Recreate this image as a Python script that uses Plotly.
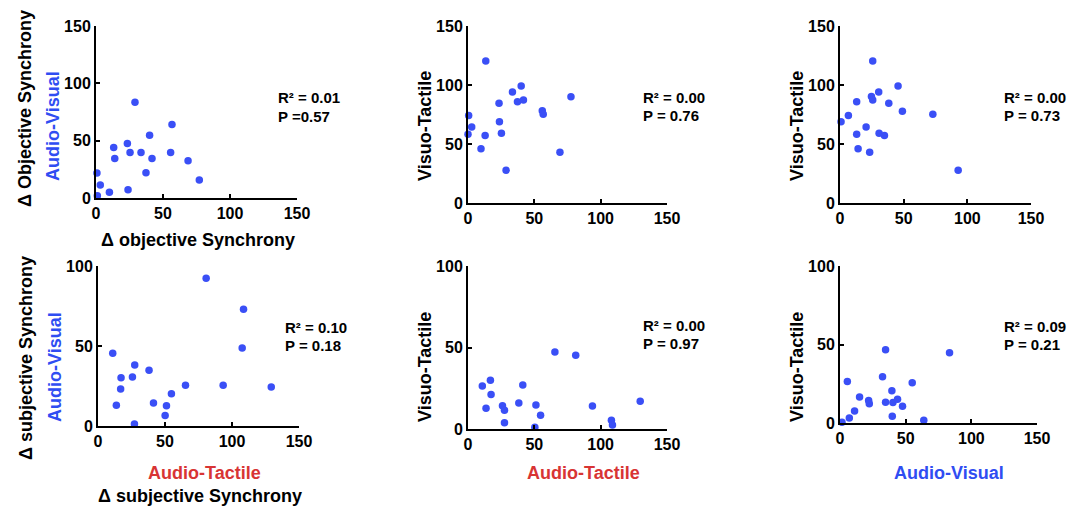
import plotly.graph_objects as go

W, H = 1083, 509

# ---- data ----
obj_av = [0.7, 3.2, 1.0, 10.0, 13.2, 14.0, 23.9, 23.4, 25.4, 29.1, 33.6, 37.3, 40.0, 41.8, 55.7, 56.7, 68.7, 77.1]
obj_at_p1 = [21.8, 11.3, 2.0, 5.0, 44.0, 34.5, 7.3, 47.6, 39.7, 83.5, 39.7, 22.0, 54.8, 34.5, 39.7, 64.1, 32.5, 15.7]

p2_x = [13.4, 0.5, 0.0, 2.8, 9.8, 12.9, 23.4, 23.7, 25.2, 28.7, 33.5, 37.3, 40.1, 41.8, 56.0, 56.7, 69.3, 77.6]
p2_y = [120.3, 74.2, 58.3, 64.5, 45.9, 57.2, 84.6, 68.8, 59.2, 27.7, 94.0, 85.8, 99.1, 87.2, 78.1, 75.3, 43.0, 90.0]

p3_x = [25.7, 0.8, 6.6, 13.1, 13.1, 14.2, 20.5, 23.3, 24.7, 25.7, 30.4, 30.7, 34.9, 38.3, 45.6, 49.0, 72.9, 92.8]
p3_y = [120.3, 68.8, 74.2, 85.8, 58.3, 45.9, 64.5, 43.0, 90.3, 87.2, 94.0, 59.2, 57.2, 84.6, 99.1, 77.8, 75.3, 27.7]

p4_x = [11.0, 13.7, 17.2, 16.9, 25.7, 27.4, 27.2, 38.1, 41.4, 50.1, 51.1, 54.8, 65.3, 80.7, 93.4, 107.6, 108.6, 129.3]
p4_y = [45.4, 12.9, 30.2, 23.1, 30.6, 38.1, 1.3, 34.8, 14.4, 6.5, 12.7, 20.2, 25.4, 92.3, 25.4, 48.8, 72.9, 24.4]

p5_x = [10.8, 13.6, 16.9, 17.4, 26.0, 27.5, 27.5, 38.3, 41.3, 50.4, 51.2, 54.7, 65.5, 81.2, 93.8, 108.1, 108.9, 129.8]
p5_y = [26.4, 12.7, 29.9, 21.1, 14.3, 11.5, 3.9, 16.0, 27.0, 1.0, 14.7, 8.4, 47.2, 45.2, 14.1, 5.3, 2.5, 17.0]

p6_x = [1.5, 5.6, 7.1, 11.1, 14.9, 21.8, 22.3, 32.4, 34.7, 34.7, 39.5, 39.8, 40.3, 43.8, 47.6, 55.0, 63.8, 83.4]
p6_y = [0.4, 26.4, 3.2, 7.7, 16.6, 14.3, 12.3, 29.4, 46.6, 13.2, 20.6, 4.3, 13.0, 15.1, 10.6, 25.7, 1.7, 44.7]

stats_r2 = ["0.01", "0.00", "0.00", "0.10", "0.00", "0.09"]
stats_p = ["=0.57", "= 0.76", "= 0.73", "= 0.18", "= 0.97", "= 0.21"]
x_ticks = [0, 50, 100, 150]
y_ticks_top = [0, 50, 100, 150]
y_ticks_bot = [0, 50, 100]

BLUE = "#2f4df2"
MARK = "#3a4ff6"
RED = "#d83434"
FONT = "Liberation Sans, Arial, sans-serif"

panels = [
    dict(x=obj_av, y=obj_at_p1, box=(96, 297, 26, 198), ymax=150, yt=y_ticks_top),
    dict(x=p2_x, y=p2_y, box=(468, 667, 26, 203), ymax=150, yt=y_ticks_top),
    dict(x=p3_x, y=p3_y, box=(840, 1031, 26, 203), ymax=150, yt=y_ticks_top),
    dict(x=p4_x, y=p4_y, box=(98, 299, 266, 426), ymax=100, yt=y_ticks_bot),
    dict(x=p5_x, y=p5_y, box=(468, 667, 266, 429), ymax=100, yt=y_ticks_bot),
    dict(x=p6_x, y=p6_y, box=(840, 1037, 266, 423), ymax=100, yt=y_ticks_bot),
]

fig = go.Figure()
layout = dict(
    width=W, height=H, margin=dict(l=0, r=0, t=0, b=0, autoexpand=False),
    paper_bgcolor="white", plot_bgcolor="white", showlegend=False,
    font=dict(family=FONT, color="black", size=16),
)
tickfont = dict(family=FONT, size=16, color="black", weight="bold")

for i, p in enumerate(panels):
    n = "" if i == 0 else str(i + 1)
    x0, x1, yt, yb = p["box"]
    fig.add_trace(go.Scatter(
        x=p["x"], y=p["y"], mode="markers",
        marker=dict(size=7.5, color=MARK),
        cliponaxis=False, xaxis="x" + n, yaxis="y" + n,
    ))
    layout["xaxis" + n] = dict(
        domain=[x0 / W, x1 / W], range=[0, 150], anchor="y" + n,
        tickvals=x_ticks, ticks="inside", ticklen=4, tickwidth=1.5, tickcolor="black",
        showline=True, linecolor="black", linewidth=2, showgrid=False, zeroline=False,
        tickfont=tickfont, fixedrange=True, automargin=False,
    )
    layout["yaxis" + n] = dict(
        domain=[1 - yb / H, 1 - yt / H], range=[0, p["ymax"]], anchor="x" + n,
        tickvals=p["yt"], ticks="inside", ticklen=4, tickwidth=1.5, tickcolor="black",
        showline=True, linecolor="black", linewidth=2, showgrid=False, zeroline=False,
        tickfont=tickfont, fixedrange=True, automargin=False,
    )

fig.update_layout(**layout)

ann = []
def txt(x, y, s, color="black", size=18, angle=0, xanchor="center"):
    ann.append(dict(x=x / W, y=1 - y / H, xref="paper", yref="paper", text=s,
                    showarrow=False, textangle=angle, xanchor=xanchor, yanchor="middle",
                    font=dict(family=FONT, size=size, color=color, weight="bold")))

stat_pos = [(276, 98, 116), (641, 97, 115), (1002, 97, 115), (283, 327, 345), (641, 325, 343), (1002, 326, 344)]
for (sx, sy1, sy2), r2, pv in zip(stat_pos, stats_r2, stats_p):
    txt(sx, sy1, "R² = " + r2, size=15, xanchor="left")
    txt(sx, sy2, "P " + pv, size=15, xanchor="left")

txt(25, 109, "Δ Objective Synchrony", angle=-90)
txt(53, 126, "Audio-Visual", color=BLUE, angle=-90)
txt(425, 126, "Visuo-Tactile", angle=-90)
txt(797, 126, "Visuo-Tactile", angle=-90)
txt(26, 358, "Δ subjective Synchrony", angle=-90)
txt(55, 367, "Audio-Visual", color=BLUE, angle=-90)
txt(425, 367, "Visuo-Tactile", angle=-90)
txt(797, 367, "Visuo-Tactile", angle=-90)

txt(198, 240, "Δ objective Synchrony")
txt(204, 473, "Audio-Tactile", color=RED)
txt(200, 496, "Δ subjective Synchrony")
txt(583, 473, "Audio-Tactile", color=RED)
txt(949, 473, "Audio-Visual", color=BLUE)

fig.update_layout(annotations=ann)
fig.write_html(
    "out.html",
    config={"displayModeBar": False},
    post_script="document.body.style.margin='0';document.body.style.overflow='hidden';",
)
